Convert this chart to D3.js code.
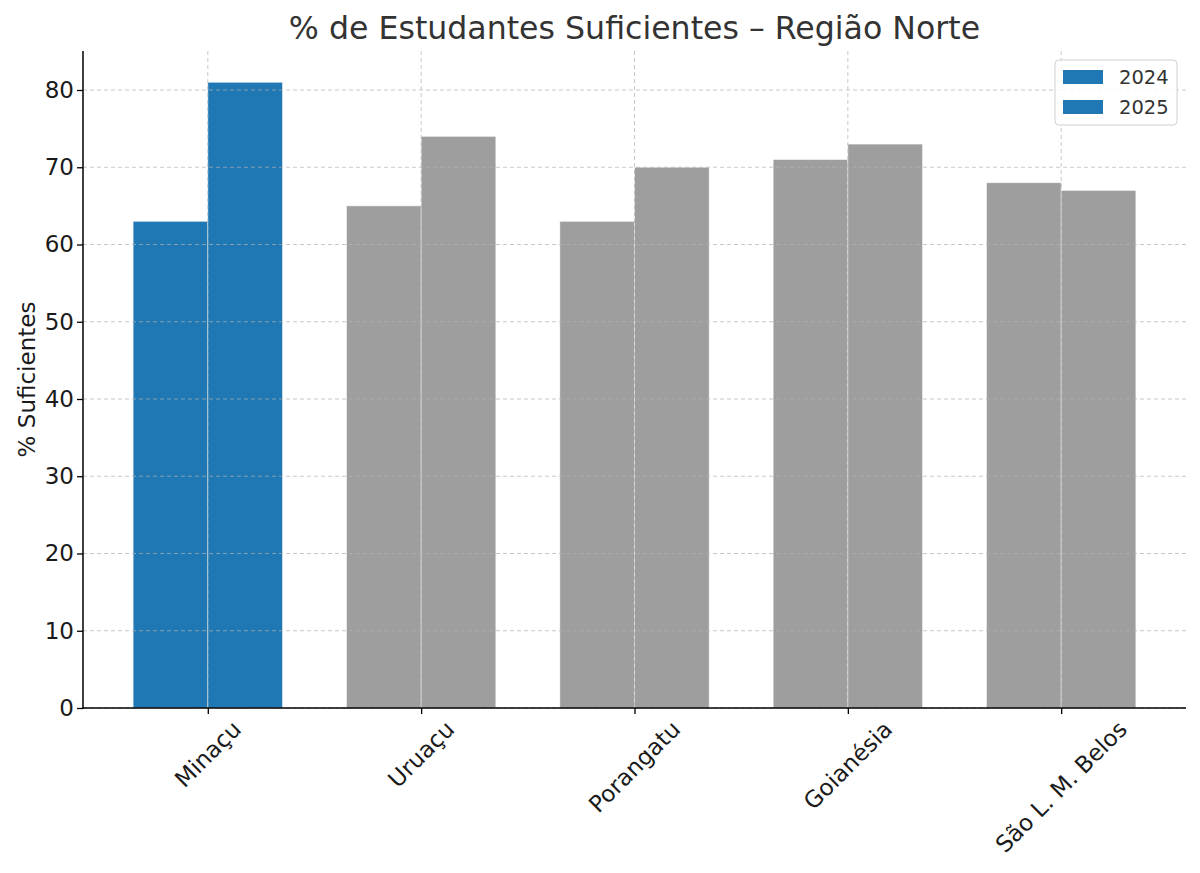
<!DOCTYPE html>
<html><head><meta charset="utf-8">
<script src="https://cdn.jsdelivr.net/npm/d3@7"></script>
<style>body{margin:0;background:#fff}text{font-family:"DejaVu Sans",sans-serif}</style>
</head><body>
<script>
const categories = ["Minaçu","Uruaçu","Porangatu","Goianésia","São L. M. Belos"];
const series2024 = [63,65,63,71,68];
const series2025 = [81,74,70,73,67];
const seriesNames = ["2024","2025"];
const yTicks = [0,10,20,30,40,50,60,70,80];
const highlight = "Minaçu";

const W=1200,H=873;
const m={l:83,r:14,t:51,b:165};
const svg=d3.select("body").append("svg").attr("width",W).attr("height",H);
const lblFont='"Noto Sans","Open Sans",sans-serif';

const x=d3.scaleLinear().domain([-0.585,categories.length-1+0.585]).range([m.l,W-m.r]);
const y=d3.scaleLinear().domain([0,85.05]).range([H-m.b,m.t]);
const bw=0.35;
const blue="#1f77b4", gray="#9e9e9e";

const g=svg.append("g");
const data=[];
categories.forEach((c,i)=>{
  data.push({c,i,off:-bw,v:series2024[i]});
  data.push({c,i,off:0,v:series2025[i]});
});
g.selectAll("rect.bar").data(data).join("rect").attr("class","bar")
 .attr("x",d=>x(d.i+d.off)).attr("width",d=>x(bw)-x(0))
 .attr("y",d=>y(d.v)).attr("height",d=>y(0)-y(d.v))
 .attr("fill",d=>d.c===highlight?blue:gray)
 .attr("stroke","#ffffff").attr("stroke-width",0.8).attr("stroke-opacity",0.6);

// grid
const grid=svg.append("g");
yTicks.forEach(t=>{
  grid.append("line").attr("x1",m.l).attr("x2",W-m.r).attr("y1",y(t)).attr("y2",y(t))
   .attr("stroke","#b0b0b0").attr("stroke-opacity",0.7).attr("stroke-dasharray","4,3").attr("stroke-width",1);
});
categories.forEach((c,i)=>{
  grid.append("line").attr("x1",x(i)).attr("x2",x(i)).attr("y1",m.t).attr("y2",H-m.b)
   .attr("stroke","#b0b0b0").attr("stroke-opacity",0.7).attr("stroke-dasharray","4,3").attr("stroke-width",1);
});

// axes
const yAxis=d3.axisLeft(y).tickValues(yTicks).tickSize(6).tickPadding(3);
const ya=svg.append("g").attr("transform",`translate(${m.l},0)`).call(yAxis);
ya.select(".domain").remove();
ya.selectAll("text").attr("font-size",23).attr("font-family",lblFont).attr("fill","#1a1a1a");
ya.selectAll("line").attr("stroke","#000").attr("stroke-width",1.3);

const xAxis=d3.axisBottom(x).tickValues(d3.range(categories.length)).tickSize(6).tickFormat("");
const xa=svg.append("g").attr("transform",`translate(0,${H-m.b})`).call(xAxis);
xa.select(".domain").remove();
xa.selectAll("line").attr("stroke","#000").attr("stroke-width",1.3);

svg.append("line").attr("x1",m.l).attr("x2",m.l).attr("y1",m.t).attr("y2",H-m.b+0.7).attr("stroke","#000").attr("stroke-width",1.5);
svg.append("line").attr("x1",m.l-0.7).attr("x2",W-m.r).attr("y1",H-m.b).attr("y2",H-m.b).attr("stroke","#000").attr("stroke-width",1.5);

// rotated labels
categories.forEach((c,i)=>{
  const t=svg.append("text").text(c).attr("font-size",23).attr("font-family",lblFont).attr("fill","#1a1a1a")
    .attr("text-anchor","middle").attr("dominant-baseline","central");
  const w=t.node().getComputedTextLength(), h=23*1.0;
  const cy=(H-m.b)+9+(w+h)/(2*Math.SQRT2);
  t.attr("transform",`translate(${x(i)},${cy}) rotate(-45)`);
});

// title
svg.append("text").attr("x",(m.l+W-m.r)/2).attr("y",39).attr("text-anchor","middle")
  .attr("font-size",31.6).attr("fill","#333").text("% de Estudantes Suficientes – Região Norte");
// y label
svg.append("text").attr("transform",`translate(35,${(m.t+H-m.b)/2}) rotate(-90)`)
  .attr("text-anchor","middle").attr("font-size",23).attr("font-family",lblFont).attr("fill","#1a1a1a").text("% Suficientes");

// legend
const lg=svg.append("g").attr("transform","translate(1055,60)");
lg.append("rect").attr("width",122).attr("height",65).attr("rx",4)
  .attr("fill","#fff").attr("fill-opacity",0.85).attr("stroke","#d0d0d0").attr("stroke-width",1);
seriesNames.forEach((s,k)=>{
  lg.append("rect").attr("x",8).attr("y",10+k*30).attr("width",40).attr("height",14).attr("fill",blue);
  lg.append("text").attr("x",64).attr("y",17+k*30).attr("dominant-baseline","central")
    .attr("font-size",19.5).attr("fill","#333").text(s);
});
</script>
</body></html>
